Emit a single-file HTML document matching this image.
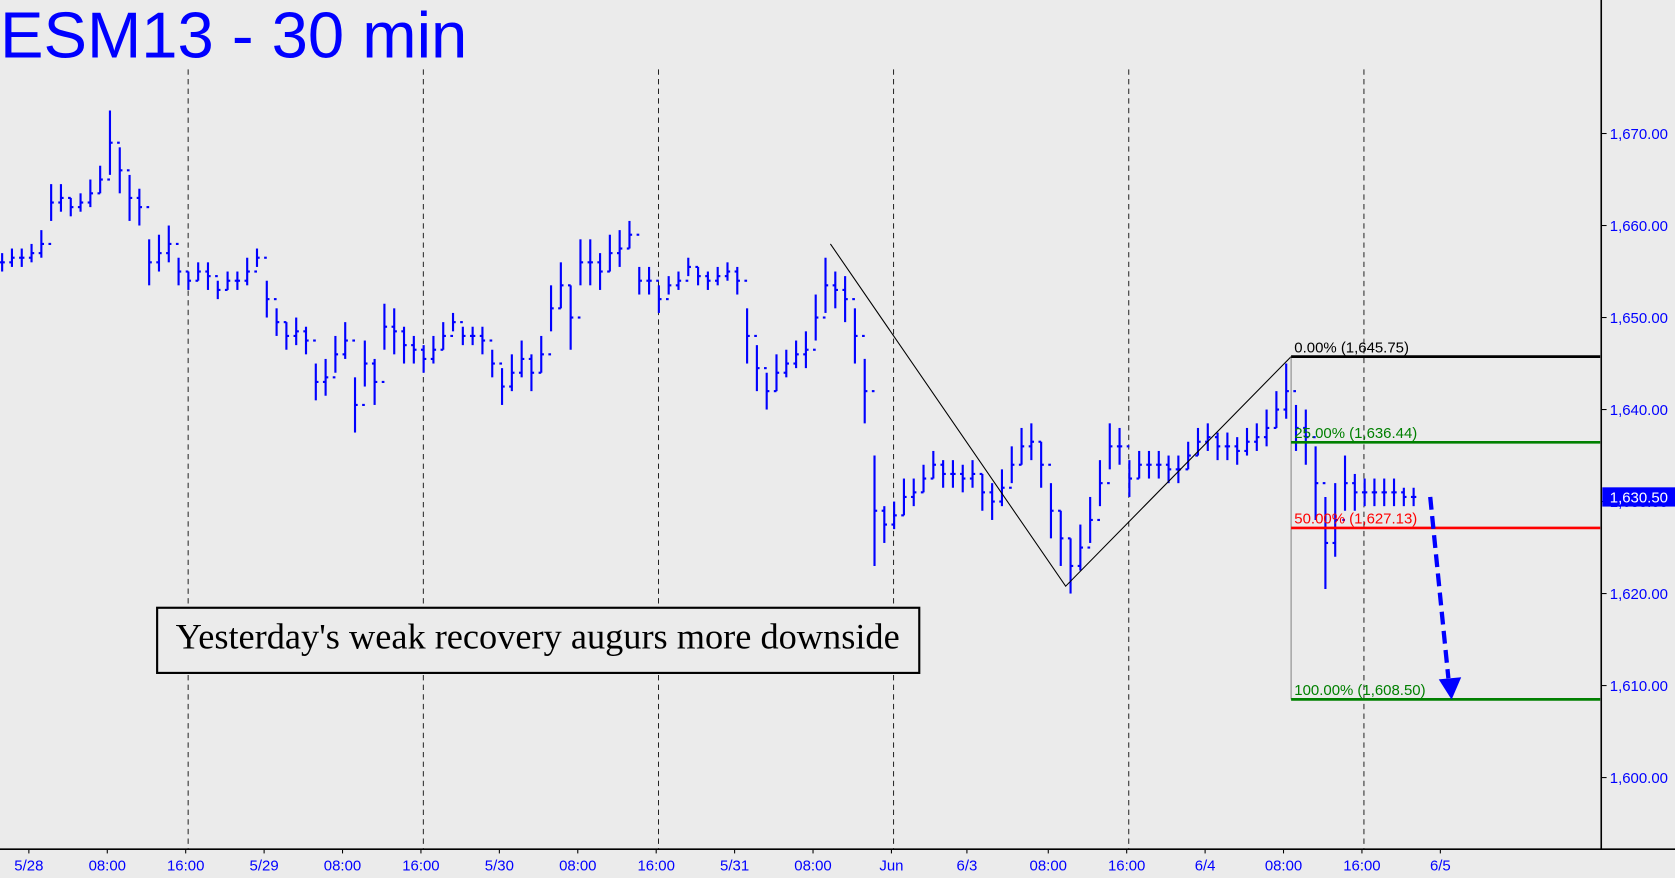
<!DOCTYPE html>
<html><head><meta charset="utf-8"><style>
html,body{margin:0;padding:0;background:#ebebeb;}
svg{display:block;}
</style></head><body>
<svg width="1675" height="878" viewBox="0 0 1567 822" preserveAspectRatio="none" xmlns="http://www.w3.org/2000/svg">
<rect x="0" y="0" width="1567" height="822" fill="#ebebeb"/>
<g id="grid"></g>
<g id="bars"></g>
<g id="overlay"></g>
<text x="0" y="54" font-family="Liberation Sans, sans-serif" font-size="61" fill="#0000ff">ESM13 - 30 min</text>
<rect x="147" y="569" width="713" height="61" fill="#ebebeb" stroke="#000" stroke-width="2"/>
<text x="503" y="607" text-anchor="middle" font-family="Liberation Serif, serif" font-size="34" fill="#000">Yesterday's weak recovery augurs more downside</text>
<g id="axes"></g>
</svg>
<script>
const mids=[1656,1656.5,1656.5,1657,1658,1662.5,1663,1662,1662.5,1663.5,1665,1669,1666,1663,1662,1656,1657,1658,1655,1654,1655,1654.5,1653,1654,1654,1655,1656.5,1652,1649.5,1648,1648.5,1647.5,1643,1643.5,1646,1647.5,1640.5,1645,1643,1649,1648.5,1647,1646.5,1645.5,1646.5,1648,1649.5,1648,1648,1647.5,1645,1642.5,1644,1645.5,1644,1646,1651,1653.5,1650,1656,1656,1655,1657,1657.5,1659,1654,1654,1652,1653.5,1654,1655.5,1654.5,1654,1654.5,1655,1654,1648,1644.5,1642,1644,1645,1646,1646.5,1650,1653.5,1653,1652,1648,1642,1629,1627.5,1628.5,1630.5,1631,1632.5,1634,1633,1633,1632.5,1633,1631,1630,1631.5,1634,1636,1636.5,1634,1629,1626,1623,1625,1628,1632,1636,1636,1632.5,1634,1634,1634,1633.5,1633.5,1635,1636.5,1637,1636,1636,1635.5,1636.5,1637,1638,1640,1642,1638,1637,1632,1625.5,1628,1632,1631,1631,1631,1631,1631,1630.5,1630.5];
const ranges=[2,2,2,2,3,4,3,2,2,3,3,7,5,5,4,5,4,4,3,2,2,3,2,2,2,3,2,4,3,3,3,3,4,4,4,4,6,5,5,5,5,4,3,3,3,3,2,2,2,3,3,4,4,4,4,4,5,5,7,5,5,4,4,4,3,3,3,3,2,2,2,2,2,2,2,3,6,5,4,4,3,3,4,5,6,4,5,6,7,12,4,3,4,3,3,3,3,3,3,3,4,4,4,4,4,4,5,6,6,6,5,5,5,5,4,4,3,3,3,3,3,3,3,3,3,3,3,3,3,4,4,6,5,6,8,10,8,6,4,3,3,3,3,2,2];
const yTicks=[1600,1610,1620,1630,1640,1650,1660,1670];
const xLabels=["5/28","08:00","16:00","5/29","08:00","16:00","5/30","08:00","16:00","5/31","08:00","Jun","6/3","08:00","16:00","6/4","08:00","16:00","6/5"];
const xLabelHours=[0,8,16,24,32,40,48,56,64,72,80,88,95.7,104,112,120,128,136,144];
const fibLevels=[1645.75,1636.44,1627.13,1608.5];
const fibLabels=["0.00%","25.00%","50.00%","100.00%"];
const fibColors=["#000","#008000","#ff0000","#008000"];
const lastPrice=1630.50;
const zigzag=[[84.5,1658],[108.5,1620.8],[131.5,1645.75]];

const NS="http://www.w3.org/2000/svg";
const Y=p=>125+(1670-p)*8.614;
const XB=i=>2+i*9.17;
const XH=h=>27+h*9.17;
function mk(t,a,parent){const e=document.createElementNS(NS,t);for(const k in a)e.setAttribute(k,a[k]);document.getElementById(parent).appendChild(e);return e;}

for(let d=0;d<6;d++){const x=176+d*220;
 const l=mk('line',{x1:x,y1:65,x2:x,y2:795,stroke:'#000','stroke-width':0.8,'stroke-dasharray':'5,4'},'grid');
 
 }

mids.forEach((m,i)=>{const x=XB(i),r=ranges[i],o=i?mids[i-1]:m;
 const g=mk('g',{},'bars');
 
 
 const a=[['line',{x1:x,y1:Y(m+r/2),x2:x,y2:Y(m-r/2)}],['line',{x1:x-2.5,y1:Y(o),x2:x,y2:Y(o)}],['line',{x1:x,y1:Y(m),x2:x+2.5,y2:Y(m)}]];
 a.forEach(([t,at])=>{const e=document.createElementNS(NS,t);for(const k in at)e.setAttribute(k,at[k]);e.setAttribute('stroke','#0000ff');e.setAttribute('stroke-width',2);g.appendChild(e);});
});

const zz=mk('polyline',{points:zigzag.map(p=>XB(p[0])+','+Y(p[1])).join(' '),fill:'none',stroke:'#000','stroke-width':1},'overlay');


const fx=XB(131.5);
const gv=mk('line',{x1:fx,y1:Y(fibLevels[0]),x2:fx,y2:Y(fibLevels[3]),stroke:'#888','stroke-width':1},'overlay');


fibLevels.forEach((v,i)=>{
 const l=mk('line',{x1:fx,y1:Y(v),x2:1497,y2:Y(v),stroke:fibColors[i],'stroke-width':2.5},'overlay');
 
 
 const t=mk('text',{x:fx+3,y:Y(v)-4,'font-family':'Liberation Sans, sans-serif','font-size':14,fill:fibColors[i]},'overlay');
 t.textContent=fibLabels[i]+' ('+v.toLocaleString('en-US',{minimumFractionDigits:2})+')';
 
 
});
const ar=mk('line',{x1:1338,y1:Y(lastPrice),x2:1355,y2:635,stroke:'#0000ff','stroke-width':4,'stroke-dasharray':'12,6'},'overlay');


const ah=mk('polygon',{points:'1346,636 1367,634 1358,655',fill:'#0000ff'},'overlay');



const ax1=mk('line',{x1:1498,y1:0,x2:1498,y2:795,stroke:'#000','stroke-width':1.5},'axes');


const ax2=mk('line',{x1:0,y1:795,x2:1567,y2:795,stroke:'#000','stroke-width':1.5},'axes');


yTicks.forEach(v=>{
 const tk=mk('line',{x1:1498,y1:Y(v),x2:1503,y2:Y(v),stroke:'#000'},'axes');
 
 
 const t=mk('text',{x:1506,y:Y(v)+5,'font-family':'Liberation Sans, sans-serif','font-size':14,fill:'#0000ff'},'axes');
 t.textContent=v.toLocaleString('en-US',{minimumFractionDigits:2});
 
 
});
const lb=mk('rect',{x:1499,y:Y(lastPrice)-9,width:68,height:18,fill:'#0000ff'},'axes');


const lt=mk('text',{x:1506,y:Y(lastPrice)+5,'font-family':'Liberation Sans, sans-serif','font-size':14,fill:'#fff'},'axes');
lt.textContent=lastPrice.toLocaleString('en-US',{minimumFractionDigits:2});


xLabels.forEach((s,i)=>{
 const x=XH(xLabelHours[i]);
 const t=mk('text',{x:x,y:815,'text-anchor':'middle','font-family':'Liberation Sans, sans-serif','font-size':14,fill:'#0000ff'},'axes');
 t.textContent=s;
 
 
 const tk=mk('line',{x1:x,y1:795,x2:x,y2:799,stroke:'#000'},'axes');
 
 
});
</script>
</body></html>
